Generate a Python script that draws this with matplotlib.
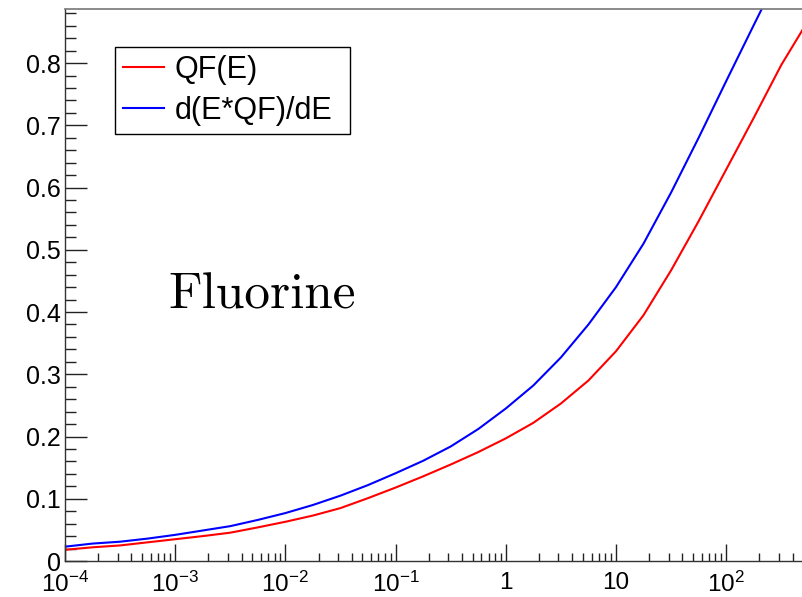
import matplotlib
matplotlib.use("Agg")
import matplotlib.pyplot as plt
import matplotlib.ticker as ticker
import numpy as np

plt.rcParams['font.family'] = ['Liberation Sans', 'DejaVu Sans']
plt.rcParams['mathtext.fontset'] = 'custom'
plt.rcParams['mathtext.rm'] = 'Liberation Sans'
plt.rcParams['mathtext.it'] = 'Liberation Sans:italic'
plt.rcParams['mathtext.default'] = 'regular'

# recoil energy (log10, quarter decades) and quenching factor curves for fluorine
log_e = [-4.0, -3.75, -3.5, -3.25, -3.0, -2.75, -2.5, -2.25, -2.0, -1.75,
         -1.5, -1.25, -1.0, -0.75, -0.5, -0.25, 0.0, 0.25, 0.5, 0.75,
         1.0, 1.25, 1.5, 1.75, 2.0, 2.25, 2.5, 2.75]
qf = [0.018, 0.022, 0.025, 0.030, 0.035, 0.040, 0.0455, 0.054, 0.063, 0.073,
      0.085, 0.101, 0.118, 0.136, 0.155, 0.175, 0.197, 0.222, 0.253, 0.290,
      0.337, 0.395, 0.467, 0.546, 0.629, 0.712, 0.797, 0.870]
dqf = [0.023, 0.028, 0.031, 0.036, 0.042, 0.049, 0.056, 0.066, 0.077, 0.090,
       0.105, 0.122, 0.141, 0.161, 0.184, 0.212, 0.245, 0.282, 0.327, 0.380,
       0.440, 0.510, 0.592, 0.680, 0.771, 0.861, 0.950, 1.035]

xmajor = [1e-4, 1e-3, 1e-2, 1e-1, 1, 10, 100]
xlabels = ['$10^{-4}$', '$10^{-3}$', '$10^{-2}$', '$10^{-1}$', '1', '10', '$10^{2}$']
ylabels = ['0', '0.1', '0.2', '0.3', '0.4', '0.5', '0.6', '0.7', '0.8']

energy = np.power(10.0, log_e)

fig = plt.figure(figsize=(8.02, 5.97), dpi=100)
ax = fig.add_axes([0.081, 0.0603, 0.9205, 0.9247])

ax.plot(energy, qf, color='red', lw=1.5, label='QF(E)')
ax.plot(energy, dqf, color='blue', lw=1.5, label='d(E*QF)/dE')

ax.set_xscale('log')
ax.set_xlim(1e-4, 500)
ax.set_ylim(0, 0.887)

ax.xaxis.set_major_locator(ticker.FixedLocator(xmajor))
ax.xaxis.set_major_formatter(ticker.FixedFormatter(xlabels))
ax.xaxis.set_minor_locator(ticker.LogLocator(base=10, subs=np.arange(2, 10), numticks=20))
ax.xaxis.set_minor_formatter(ticker.NullFormatter())

ax.yaxis.set_major_locator(ticker.FixedLocator([i * 0.1 for i in range(9)]))
ax.yaxis.set_major_formatter(ticker.FixedFormatter(ylabels))
ax.yaxis.set_minor_locator(ticker.MultipleLocator(0.02))

ax.tick_params(axis='both', which='both', direction='in', top=False, right=False,
               labelsize=18, color='#222222', width=1)
ax.tick_params(axis='y', which='major', length=15.8, pad=3)
ax.tick_params(axis='y', which='minor', length=7.9)
ax.tick_params(axis='x', which='major', length=12.2, pad=8, labelsize=17.5)
ax.tick_params(axis='x', which='minor', length=5.8)

for side in ['left', 'bottom']:
    ax.spines[side].set_color('#333333')
    ax.spines[side].set_linewidth(1)
ax.spines['top'].set_color('#777777')
ax.spines['top'].set_linewidth(1.2)

leg = ax.legend(loc='upper left', bbox_to_anchor=(0.0677, 0.931, 0.318, 0.0),
                mode='expand', borderaxespad=0, fontsize=22, frameon=True,
                fancybox=False, edgecolor='black', framealpha=1,
                handlelength=1.35, handletextpad=0.35, labelspacing=0.36,
                borderpad=0.26)
leg.get_frame().set_linewidth(1)

fig.text(0.2095, 0.484, 'Fluorine', family='cmr10', fontsize=37, va='baseline')

fig.savefig('out.png', dpi=100)
